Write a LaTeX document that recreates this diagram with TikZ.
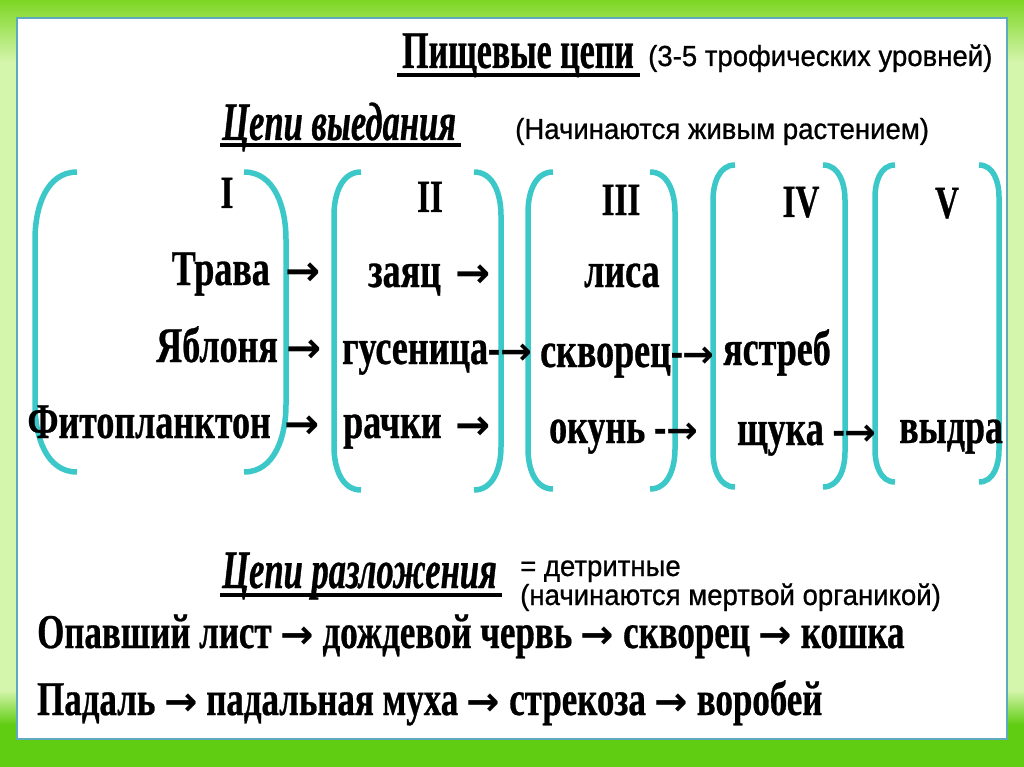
\documentclass[tikz,border=0pt]{standalone}
\usepackage{fontspec}
\setmainfont{Liberation Serif}
\newfontfamily\rowfont[FakeStretch=0.72,FakeBold=0.6]{Liberation Serif}
\newfontfamily\headfont[FakeStretch=0.64,FakeBold=0.6]{Liberation Serif}
\newfontfamily\notefont[FakeStretch=0.95,FakeBold=0.8]{Liberation Sans}
\newfontfamily\arrowfont{DejaVu Sans}
\newcommand{\tarr}[1][42]{{\arrowfont\bfseries\fontsize{#1}{#1}\selectfont →}}
\definecolor{brkcol}{RGB}{60,200,200}
\definecolor{bggreen}{RGB}{125,214,36}
\definecolor{bgdeep}{RGB}{96,204,18}
\definecolor{bgpale}{RGB}{212,245,172}
\definecolor{panelcol}{RGB}{95,170,190}

\begin{document}
\begin{tikzpicture}[x=1pt,y=-1pt,
  brk/.style={draw=brkcol,line width=5.5pt},
  uline/.style={line width=4.5pt},
  word/.style={inner sep=0pt,font=\rowfont\bfseries\fontsize{50}{50}\selectfont},
  numeral/.style={inner sep=0pt,font=\rowfont\bfseries\fontsize{46}{46}\selectfont},
  head/.style={inner sep=0pt,font=\headfont\bfseries\fontsize{53}{53}\selectfont},
  headit/.style={inner sep=0pt,font=\headfont\bfseries\itshape\fontsize{54}{54}\selectfont},
  note/.style={inner sep=0pt,font=\notefont\fontsize{29}{29}\selectfont},
  chain/.style={inner sep=0pt,font=\rowfont\bfseries\fontsize{48.5}{48.5}\selectfont}]
  \useasboundingbox (0,0) rectangle (1024,767);
  % фон
  \fill[bgpale] (0,0) rectangle (1024,767);
  \fill[top color=bggreen,bottom color=bgpale] (0,0) rectangle (1024,62);
  \fill[top color=bgpale,bottom color=bgdeep] (0,690) rectangle (1024,725);
  \fill[bgdeep] (0,725) rectangle (1024,767);
  \filldraw[fill=white,draw=panelcol,line width=1.2pt] (17,18) rectangle (1007,739);
  % заголовки
  \node[head,anchor=base west] (food) at (402,68) {Пищевые цепи};
  \draw[uline] (397,75) -- (640,75);
  \node[note,anchor=base west] (levels) at (648,66) {(3-5 трофических уровней)};
  \node[headit,anchor=base west] (graze) at (222,140) {Цепи выедания};
  \draw[uline] (220,145) -- (461,145);
  \node[note,anchor=base west] (living) at (515,139) {(Начинаются живым растением)};
  % скобки уровней
  \foreach \xl/\xr/\d/\yt/\yb in {35/286/42/172/472, 334/501/27/172/490,
      528/675/25/172/489, 713/845/22/165/487, 875/999/20/165/482} {
    \draw[brk] (\xl+\d,\yt) to[out=180,in=90] (\xl,\yt+\d*1.6)
      -- (\xl,\yb-\d*1.6) to[out=-90,in=180] (\xl+\d,\yb);
    \draw[brk] (\xr-\d,\yt) to[out=0,in=90] (\xr,\yt+\d*1.6)
      -- (\xr,\yb-\d*1.6) to[out=-90,in=0] (\xr-\d,\yb);
  }
  \node[numeral,anchor=base] (lvI) at (227,208) {I};
  \node[numeral,anchor=base] (lvII) at (430,212) {II};
  \node[numeral,anchor=base] (lvIII) at (621,215) {III};
  \node[numeral,anchor=base] (lvIV) at (801,217) {IV};
  \node[numeral,anchor=base] (lvV) at (947,218) {V};
  % трава
  \node[word,anchor=base east] (grass) at (270,285) {Трава};
  \node[word,anchor=base west] (ga) at (285,285) {\tarr};
  \node[word,anchor=base west] (hare) at (368,287) {заяц};
  \node[word,anchor=base west] (ha) at (455,287) {\tarr};
  \node[word,anchor=base west] (fox) at (584,287) {лиса};
  % яблоня
  \node[word,anchor=base east] (apple) at (278,362) {Яблоня};
  \node[word,anchor=base west] (aa) at (286,362) {\tarr};
  \node[word,anchor=base west] (worm) at (342,364) {гусеница-\tarr[38]};
  \node[word,anchor=base west] (starling) at (540,367) {скворец-\tarr[38]};
  \node[word,anchor=base west] (hawk) at (723,365) {ястреб};
  % фитопланктон
  \node[word,anchor=base east] (phyto) at (271,438) {Фитопланктон};
  \node[word,anchor=base west] (pa) at (284,438) {\tarr};
  \node[word,anchor=base west] (crust) at (343,438) {рачки};
  \node[word,anchor=base west] (ca) at (455,439) {\tarr};
  \node[word,anchor=base west] (perch) at (549,443) {окунь -\tarr[38]};
  \node[word,anchor=base west] (pike) at (737,445) {щука -\tarr[38]};
  \node[word,anchor=base west] (otter) at (899,443) {выдра};
  % цепи разложения
  \node[headit,anchor=base west] (decay) at (222,588) {Цепи разложения};
  \draw[uline] (220,595) -- (502,595);
  \node[note,anchor=base west] (detr) at (520,576) {= детритные};
  \node[note,anchor=base west] (dead) at (520,605) {(начинаются мертвой органикой)};
  \node[chain,anchor=base west] (leaf) at (37,648)
    {Опавший лист \tarr[40] дождевой червь \tarr[40] скворец \tarr[40] кошка};
  \node[chain,anchor=base west] (carrion) at (37,715)
    {Падаль \tarr[40] падальная муха \tarr[40] стрекоза \tarr[40] воробей};
\end{tikzpicture}
\end{document}
